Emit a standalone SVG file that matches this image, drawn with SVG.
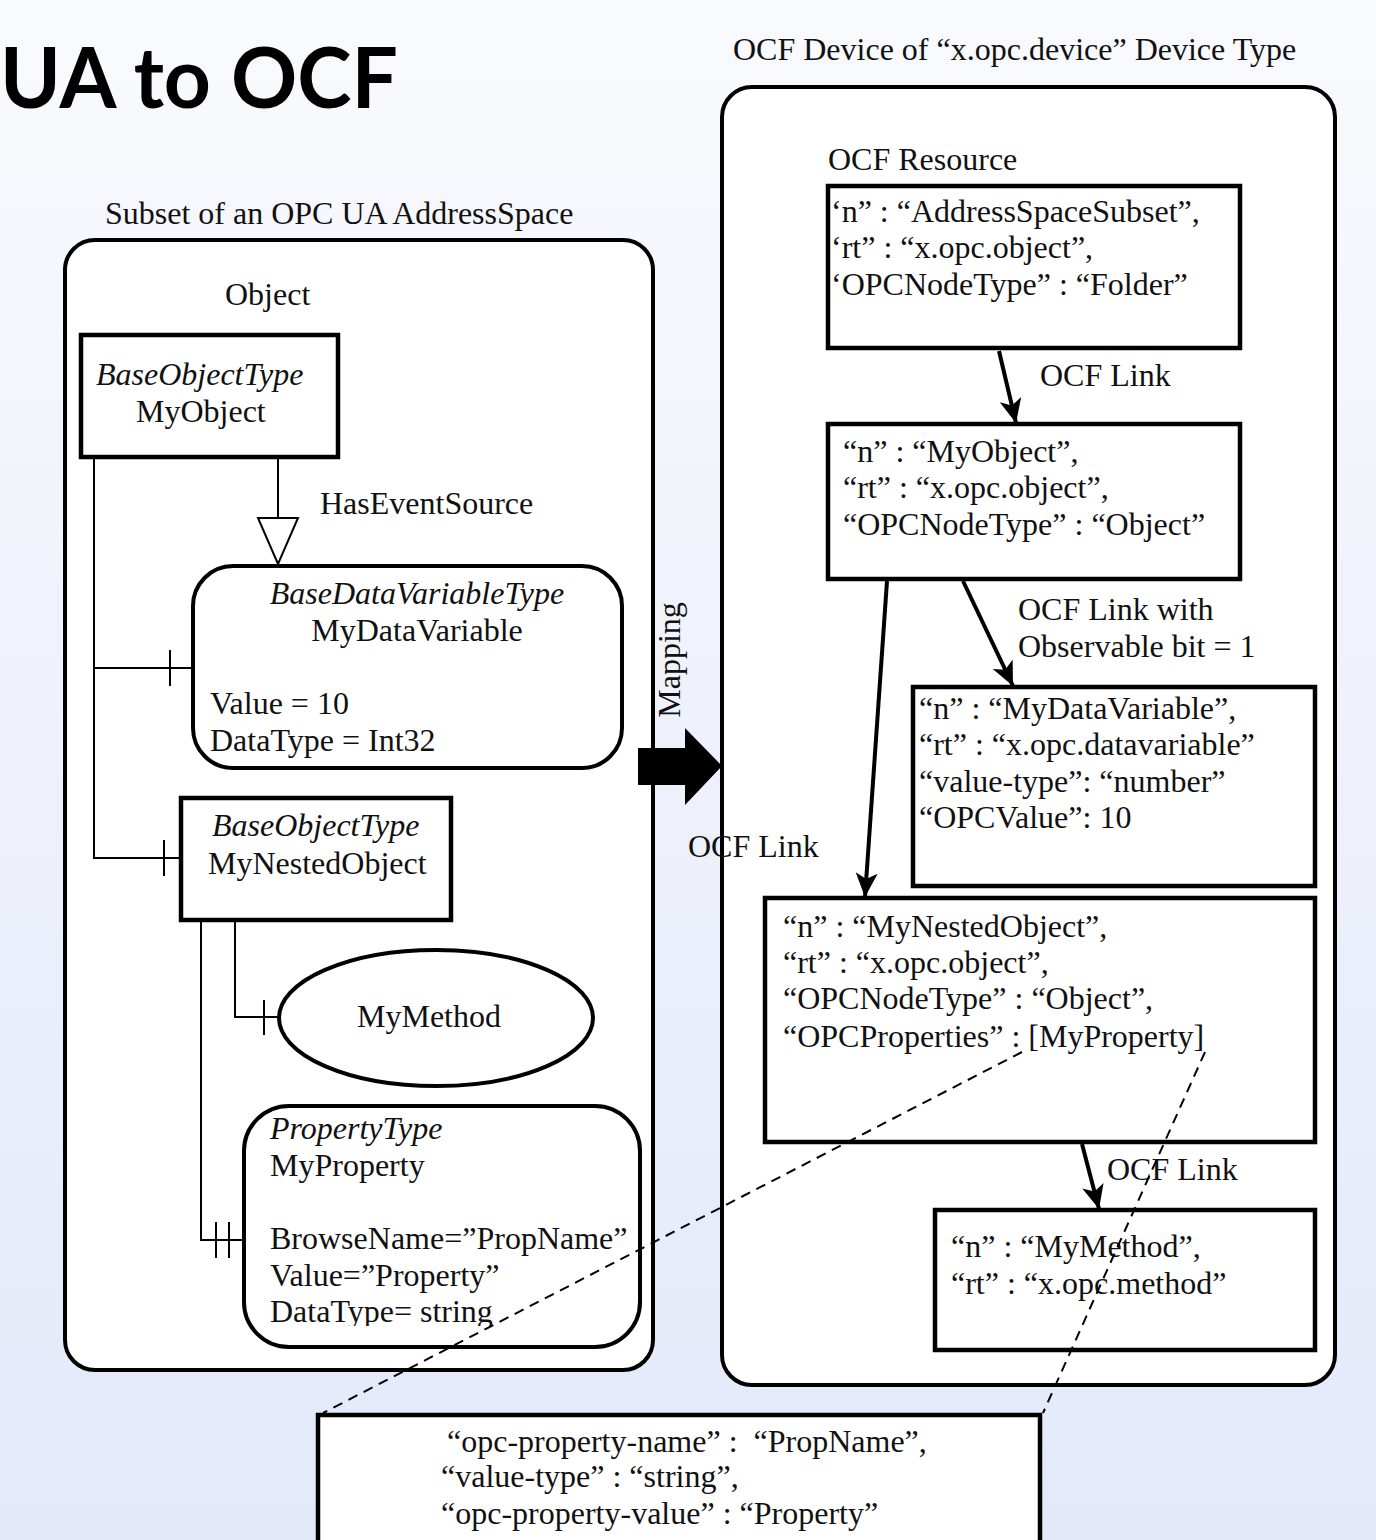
<svg xmlns="http://www.w3.org/2000/svg" width="1376" height="1540" viewBox="0 0 1376 1540">
<defs>
<linearGradient id="bg" x1="0" y1="0" x2="0" y2="1">
<stop offset="0" stop-color="#f9fafd"/>
<stop offset="0.5" stop-color="#eef1fb"/>
<stop offset="1" stop-color="#e3e9fa"/>
</linearGradient>
<marker id="ah" markerUnits="userSpaceOnUse" markerWidth="26" markerHeight="24" refX="24" refY="12" orient="auto">
<path d="M0,1 L24,12 L0,23 L6,12 z" fill="#000"/>
</marker>
<clipPath id="clipProp"><rect x="244" y="1100" width="400" height="226"/></clipPath>
</defs>
<style>
text{font-family:"Liberation Serif","Times New Roman",serif;font-size:32px;fill:#111}
.it{font-style:italic}
.mid{text-anchor:middle}
.cont{fill:#fff;stroke:#000;stroke-width:4}
.box{fill:#fff;stroke:#000;stroke-width:4.5}
.thin{fill:none;stroke:#000;stroke-width:2}
.arr{fill:none;stroke:#000;stroke-width:4;marker-end:url(#ah)}
.dash{fill:none;stroke:#000;stroke-width:2;stroke-dasharray:10 7}
.title{font-family:Lato,"Open Sans","Liberation Sans",sans-serif;font-weight:700;font-size:84px;fill:#000}
</style>
<rect x="0" y="0" width="1376" height="1540" fill="url(#bg)"/>
<text class="title" x="0" y="108" textLength="398" lengthAdjust="spacingAndGlyphs">UA to OCF</text>

<g id="opcua-container">
<text x="105" y="224">Subset of an OPC UA AddressSpace</text>
<rect class="cont" x="65" y="240" width="588" height="1130" rx="30"/>
<text x="225" y="305">Object</text>
</g>

<g id="ocf-container">
<text x="733" y="60">OCF Device of “x.opc.device” Device Type</text>
<rect class="cont" x="722" y="87" width="613" height="1298" rx="30"/>
<text x="828" y="170">OCF Resource</text>
</g>

<g id="connectors">
<polyline class="thin" points="94,457 94,858 181,858"/>
<line class="thin" x1="94" y1="668" x2="193" y2="668"/>
<line class="thin" x1="170" y1="650" x2="170" y2="686"/>
<line class="thin" x1="164" y1="840" x2="164" y2="876"/>
<line class="thin" x1="278" y1="457" x2="278" y2="518"/>
<polygon class="thin" points="258,518 298,518 278,564" fill="#fff"/>
<polyline class="thin" points="235,920 235,1017 280,1017"/>
<line class="thin" x1="264" y1="1000" x2="264" y2="1035"/>
<polyline class="thin" points="201,920 201,1240 244,1240"/>
<line class="thin" x1="216" y1="1222" x2="216" y2="1258"/>
<line class="thin" x1="229" y1="1222" x2="229" y2="1258"/>
<path d="M638,748 H685 V728 L722,766 L685,805 V785 H638 z" fill="#000"/>
<line class="arr" x1="999" y1="351" x2="1016" y2="423"/>
<line class="arr" x1="963" y1="581" x2="1013" y2="686"/>
<line class="arr" x1="887" y1="581" x2="865" y2="897"/>
<line class="arr" x1="1082" y1="1144" x2="1099" y2="1209"/>
</g>

<g id="labels">
<text x="320" y="514">HasEventSource</text>
<text transform="translate(680,660) rotate(-90)" class="mid">Mapping</text>
<text x="1040" y="386">OCF Link</text>
<text x="1018" y="620">OCF Link with</text>
<text x="1018" y="657">Observable bit = 1</text>
<text x="688" y="857">OCF Link</text>
<text x="1107" y="1180">OCF Link</text>
</g>

<g id="myobject">
<rect class="box" x="81" y="335" width="257" height="122"/>
<text class="it" x="96" y="385">BaseObjectType</text>
<text x="136" y="422">MyObject</text>
</g>

<g id="mydatavariable">
<rect class="cont" x="193" y="566" width="429" height="202" rx="40"/>
<text class="it mid" x="417" y="604">BaseDataVariableType</text>
<text class="mid" x="417" y="641">MyDataVariable</text>
<text x="210" y="714">Value = 10</text>
<text x="210" y="751">DataType = Int32</text>
</g>

<g id="mynestedobject">
<rect class="box" x="181" y="798" width="270" height="122"/>
<text class="it" x="212" y="836">BaseObjectType</text>
<text x="208" y="874">MyNestedObject</text>
</g>

<g id="mymethod">
<ellipse cx="436" cy="1018" rx="157" ry="68" fill="#fff" stroke="#000" stroke-width="4"/>
<text class="mid" x="429" y="1027">MyMethod</text>
</g>

<g id="myproperty">
<rect class="cont" x="244" y="1106" width="396" height="241" rx="45"/>
<text class="it" x="270" y="1139">PropertyType</text>
<text x="270" y="1176">MyProperty</text>
<text x="270" y="1249">BrowseName=”PropName”</text>
<text x="270" y="1286">Value=”Property”</text>
<g clip-path="url(#clipProp)"><text x="270" y="1322">DataType= string</text></g>
</g>

<g id="res-addressspacesubset">
<rect class="box" x="828" y="186" width="412" height="162"/>
<text x="831" y="222">‘n” : “AddressSpaceSubset”,</text>
<text x="831" y="258">‘rt” : “x.opc.object”,</text>
<text x="831" y="295">‘OPCNodeType” : “Folder”</text>
</g>

<g id="res-myobject">
<rect class="box" x="828" y="424" width="412" height="155"/>
<text x="843" y="462">“n” : “MyObject”,</text>
<text x="843" y="498">“rt” : “x.opc.object”,</text>
<text x="843" y="535">“OPCNodeType” : “Object”</text>
</g>

<g id="res-mydatavariable">
<rect class="box" x="913" y="687" width="402" height="199"/>
<text x="919" y="719">“n” : “MyDataVariable”,</text>
<text x="919" y="755">“rt” : “x.opc.datavariable”</text>
<text x="919" y="792">“value-type”: “number”</text>
<text x="919" y="828">“OPCValue”: 10</text>
</g>

<g id="res-mynestedobject">
<rect class="box" x="765" y="898" width="550" height="244"/>
<text x="783" y="937">“n” : “MyNestedObject”,</text>
<text x="783" y="973">“rt” : “x.opc.object”,</text>
<text x="783" y="1009">“OPCNodeType” : “Object”,</text>
<text x="783" y="1047">“OPCProperties” : [MyProperty]</text>
</g>

<g id="res-mymethod">
<rect class="box" x="935" y="1210" width="380" height="140"/>
<text x="951" y="1257">“n” : “MyMethod”,</text>
<text x="951" y="1294">“rt” : “x.opc.method”</text>
</g>

<g id="property-detail">
<rect class="box" x="318" y="1415" width="722" height="160"/>
<text x="447" y="1452" style="white-space:pre">“opc-property-name” :  “PropName”,</text>
<text x="441" y="1487">“value-type” : “string”,</text>
<text x="441" y="1524">“opc-property-value” : “Property”</text>
</g>

<g id="dashed-connectors">
<line class="dash" x1="1022" y1="1052" x2="323" y2="1413"/>
<line class="dash" x1="1205" y1="1052" x2="1043" y2="1413"/>
</g>
</svg>
